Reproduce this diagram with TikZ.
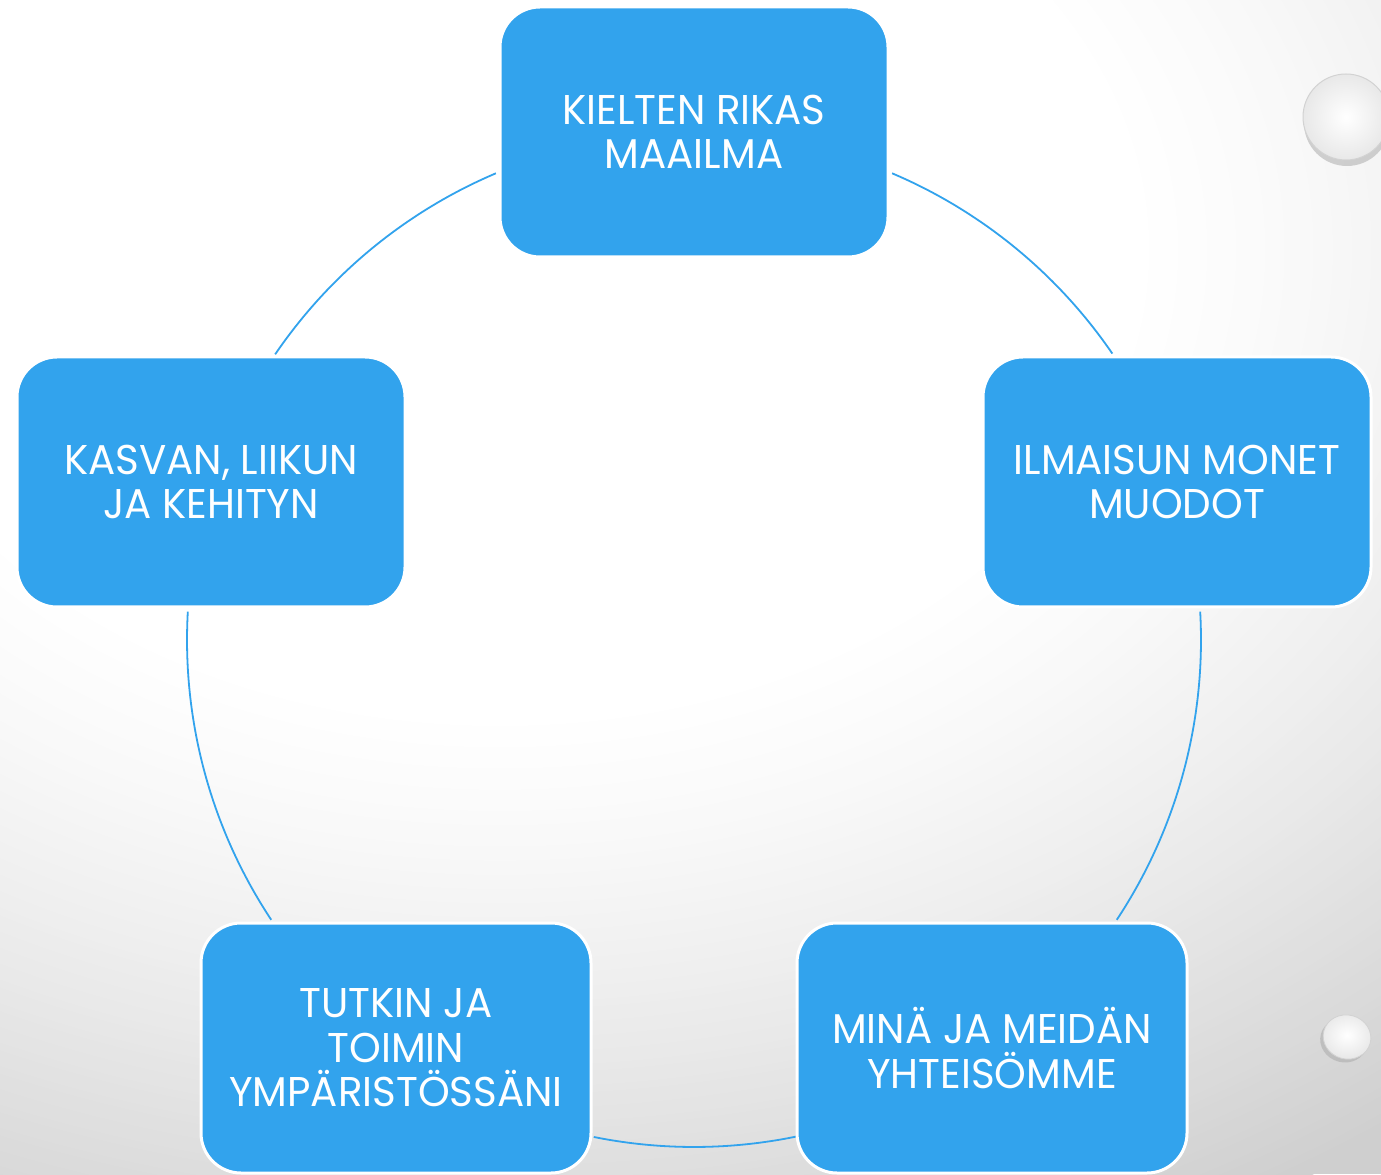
\documentclass[tikz,border=0pt]{standalone}
\usepackage{fontspec}
\setmainfont{Poppins}[FakeStretch=0.97]
\usetikzlibrary{calc}
\definecolor{boxblue}{RGB}{50,163,237}
\begin{document}
\begin{tikzpicture}[x=0.5pt,y=0.5pt,
  card/.style={draw=white, line width=1.5pt, fill=boxblue, rounded corners=20pt,
    minimum width=194pt, minimum height=125pt, text=white, align=center,
    font=\fontsize{20.8}{22.25}\selectfont, inner sep=0pt},
  ring/.style={draw=boxblue, line width=0.9pt},
  drop/.style={inner color=white, outer color=gray!18}]
\useasboundingbox (0,0) rectangle (1381,1174);
% background: stepped elliptical gradient
\begin{scope}
  \clip (0,0) rectangle (1381,1174);
  \fill[black!19] (0,0) rectangle (1381,1174);
  \foreach \i in {0,...,89}{
    \pgfmathsetmacro\t{1-\i/90}
    \pgfmathsetmacro\f{0.42+0.58*\t}
    \pgfmathsetmacro\g{1-0.19*pow(\t,1.3)}
    \pgfmathsetmacro\rx{1500*\f}
    \pgfmathsetmacro\ry{1100*\f}
    \definecolor{bgtmp}{gray}{\g}
    \fill[bgtmp] (500,924) ellipse [x radius=\rx, y radius=\ry];
  }
  \fill[white] (500,924) ellipse [x radius=630, y radius=462];
\end{scope}
% circle centre
\coordinate (c) at (694,534);
\def\R{507}
\coordinate (p1) at ($(c)+(113:\R)$);
\coordinate (p2) at ($(c)+(176.8:\R)$);
\coordinate (p3) at ($(c)+(258.6:\R)$);
\coordinate (p4) at ($(c)+(326.5:\R)$);
\coordinate (p5) at ($(c)+(34.4:\R)$);
\draw[ring] (p1) arc[start angle=113, end angle=145.7, radius=\R];
\draw[ring] (p2) arc[start angle=176.8, end angle=213.5, radius=\R];
\draw[ring] (p3) arc[start angle=258.6, end angle=281.7, radius=\R];
\draw[ring] (p4) arc[start angle=326.5, end angle=363.2, radius=\R];
\draw[ring] (p5) arc[start angle=34.4, end angle=67, radius=\R];
% droplets
\fill[gray!70, opacity=0.5] (1347,1051) circle (43);
\shade[drop] (1346,1057) circle (43);
\draw[gray!35, line width=0.5pt] (1346,1057) circle (43);
\begin{scope}[rotate around={-15:(1347,137)}]
  \fill[gray!70, opacity=0.5] (1345,133) ellipse [x radius=24, y radius=22];
  \shade[drop] (1347,137) ellipse [x radius=24, y radius=22];
  \draw[gray!35, line width=0.4pt] (1347,137) ellipse [x radius=24, y radius=22];
\end{scope}
% boxes
\node[card] (kielten) at (694,1042) {KIELTEN RIKAS\\MAAILMA};
\node[card] (kasvan) at (211,692) {KASVAN, LIIKUN\\JA KEHITYN};
\node[card] (ilmaisu) at (1177,692) {ILMAISUN MONET\\MUODOT};
\node[card, minimum width=195pt] (tutkin) at (396,126) {TUTKIN JA\\TOIMIN\\YMPÄRISTÖSSÄNI};
\node[card, minimum width=195pt] (mina) at (992,126) {MINÄ JA MEIDÄN\\YHTEISÖMME};
\end{tikzpicture}
\end{document}
